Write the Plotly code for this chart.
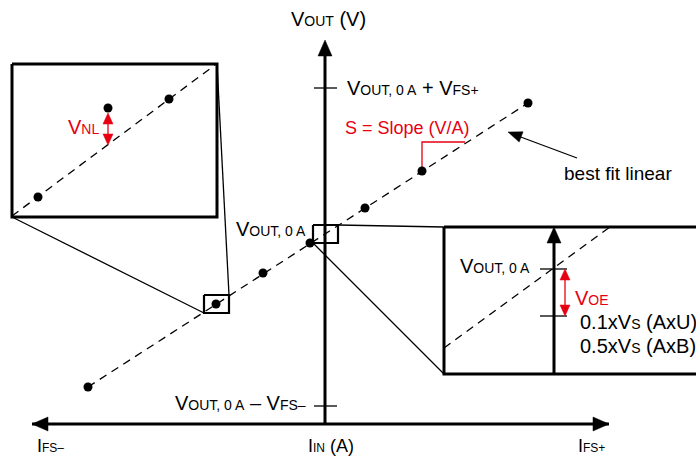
import math
import plotly.graph_objects as go

W, H = 696, 457
INK = "#000000"
RED = "#e60012"
FONT = "Liberation Sans, Arial, Helvetica, sans-serif"

# --- main transfer plot, canvas coords (y grows downward) ---
vout_axis_x = 325
vout_axis_y = [424, 40]
iin_axis_y = 424
iin_axis_x = [32, 609]

fit_x = [88, 528]
fit_y = [387, 103]
meas_x = [88, 216, 263, 310, 365, 422, 528]
meas_y = [387, 304, 273, 243, 208, 171, 103]

vtick_y = [88, 406]
vtick_labels = ["V{OUT, 0 A} + V{FS+}", "V{OUT, 0 A} – V{FS–}"]
itick_x = [50, 331, 591]
itick_labels = ["I{FS–}", "I{IN} (A)", "I{FS+}"]

# zoom windows on the main line
small_boxes = [(204, 295, 229, 313), (313, 225, 338, 243)]

# --- left inset: nonlinearity ---
nl_box = (12, 64, 217, 217)
nl_fit_x = [12, 215]
nl_fit_y = [216, 65]
nl_pts_x = [38, 108, 169]
nl_pts_y = [197, 108, 99]
nl_arrow = (108, 113, 145)

# --- right inset: offset ---
oe_box = (444, 227, 710, 374)
oe_axis_x = 554
oe_fit_x = [444, 610]
oe_fit_y = [348, 227]
oe_tick_y = [269, 316]
oe_arrow_x = 565

# slope marker and callout
slope_x = [422, 422, 465]
slope_y = [170, 142, 142]
callout_tail = (577, 158)
callout_tip = (508, 132)


def head(tip, tail, length, width):
    dx, dy = tip[0] - tail[0], tip[1] - tail[1]
    d = math.hypot(dx, dy)
    ux, uy = dx / d, dy / d
    bx, by = tip[0] - ux * length, tip[1] - uy * length
    px, py = -uy * width / 2, ux * width / 2
    return [tip[0], bx + px, bx - px, tip[0]], [tip[1], by + py, by - py, tip[1]]


def segs(pairs):
    xs, ys = [], []
    for (x0, y0), (x1, y1) in pairs:
        xs += [x0, x1, None]
        ys += [y0, y1, None]
    return xs, ys


def rect(b):
    x0, y0, x1, y1 = b
    return [x0, x1, x1, x0, x0], [y0, y0, y1, y1, y0]


fig = go.Figure()


def line(xs, ys, w, color=INK, dash=None):
    fig.add_trace(go.Scatter(x=xs, y=ys, mode="lines", hoverinfo="skip",
                             line=dict(color=color, width=w, dash=dash)))


def tri(xs, ys, color=INK):
    fig.add_trace(go.Scatter(x=xs, y=ys, mode="lines", fill="toself", fillcolor=color,
                             line=dict(color=color, width=0.5), hoverinfo="skip"))


# thin connector lines
cx, cy = segs([((nl_box[0], nl_box[3]), (small_boxes[0][0], small_boxes[0][3])),
               ((nl_box[2], nl_box[1]), (small_boxes[0][2], small_boxes[0][1])),
               ((small_boxes[1][0], small_boxes[1][3]), (oe_box[0], oe_box[3])),
               ((small_boxes[1][2], small_boxes[1][1]), (oe_box[0], oe_box[1]))])
line(cx, cy, 1.3)

# best fit dashed lines
line(fit_x, fit_y, 1.3, dash="8px,6px")
line(nl_fit_x, nl_fit_y, 1.3, dash="8px,6px")
line(oe_fit_x, oe_fit_y, 1.3, dash="8px,6px")

# main axes
line([vout_axis_x, vout_axis_x], [vout_axis_y[0], vout_axis_y[1] + 12], 3)
line(iin_axis_x, [iin_axis_y, iin_axis_y], 3)
tri(*head((vout_axis_x, vout_axis_y[1]), (vout_axis_x, 200), 16, 14))
tri(*head((iin_axis_x[0], iin_axis_y), (200, iin_axis_y), 16, 14))
tri(*head((iin_axis_x[1], iin_axis_y), (400, iin_axis_y), 16, 14))

# ticks on VOUT axis
tx, ty = segs([((vout_axis_x - 11, y), (vout_axis_x + 12, y)) for y in vtick_y])
line(tx, ty, 1.3)

# boxes
for b in small_boxes:
    line(*rect(b), 2.2)
line(*rect(nl_box), 3)
line(*rect(oe_box), 3)

# offset inset axis
line([oe_axis_x, oe_axis_x], [oe_box[3], oe_box[1] + 12], 3)
tri(*head((oe_axis_x, oe_box[1]), (oe_axis_x, 300), 16, 14))
tx, ty = segs([((oe_axis_x - 14, y), (oe_axis_x + 13, y)) for y in oe_tick_y])
line(tx, ty, 1.3)

# red dimension arrows
line([oe_arrow_x, oe_arrow_x], [oe_tick_y[0] + 8, oe_tick_y[1] - 8], 1.3, RED)
tri(*head((oe_arrow_x, oe_tick_y[0]), (oe_arrow_x, 300), 11, 10), RED)
tri(*head((oe_arrow_x, oe_tick_y[1]), (oe_arrow_x, 280), 11, 10), RED)
ax_, a0, a1 = nl_arrow
line([ax_, ax_], [a0 + 8, a1 - 8], 1.3, RED)
tri(*head((ax_, a0), (ax_, a1), 11, 10), RED)
tri(*head((ax_, a1), (ax_, a0), 11, 10), RED)

# slope marker
line(slope_x, slope_y, 1.3, RED)

# callout arrow
line([callout_tail[0], callout_tip[0] + 10], [callout_tail[1], callout_tip[1] + 4], 1.3)
tri(*head(callout_tip, callout_tail, 14, 11))

# data points
fig.add_trace(go.Scatter(x=meas_x + nl_pts_x, y=meas_y + nl_pts_y, mode="markers",
                         marker=dict(color=INK, size=9), hoverinfo="skip"))


def sub(s, small):
    # "V{OUT}" -> V with a small-cap style subscript on the baseline
    return s.replace("{", '<span style="font-size:%dpx">' % small).replace("}", "</span>")


def text(x, y, s, anchor="left", color=INK, size=20, small=14):
    fig.add_annotation(x=x, y=y, text=sub(s, small), showarrow=False, xanchor=anchor,
                       yanchor="middle", font=dict(family=FONT, size=size, color=color))


text(328, 19, "V{OUT} (V)", "center")
text(345, vtick_y[0], vtick_labels[0])
text(308, vtick_y[1] - 3, vtick_labels[1], "right")
for x, s in zip(itick_x, itick_labels):
    text(x, 446, s, "center", size=18, small=12)
text(234, 229, "V{OUT, 0 A}")
text(458, 266, "V{OUT, 0 A}")
text(343, 128, "S = Slope (V/A)", color=RED, size=18)
text(562, 173, "best fit linear", size=19)
text(66, 127, "V{NL}", color=RED)
text(573, 298, "V{OE}", color=RED)
text(578, 322, "0.1xV{S} (AxU)")
text(578, 346, "0.5xV{S} (AxB)")

fig.update_layout(width=W, height=H, margin=dict(l=0, r=0, t=0, b=0),
                  paper_bgcolor="white", plot_bgcolor="white", showlegend=False,
                  xaxis=dict(range=[0, W], visible=False, fixedrange=True),
                  yaxis=dict(range=[H, 0], visible=False, fixedrange=True))
fig.write_html("out.html", config={"displayModeBar": False},
               post_script="document.body.style.margin='0';")
